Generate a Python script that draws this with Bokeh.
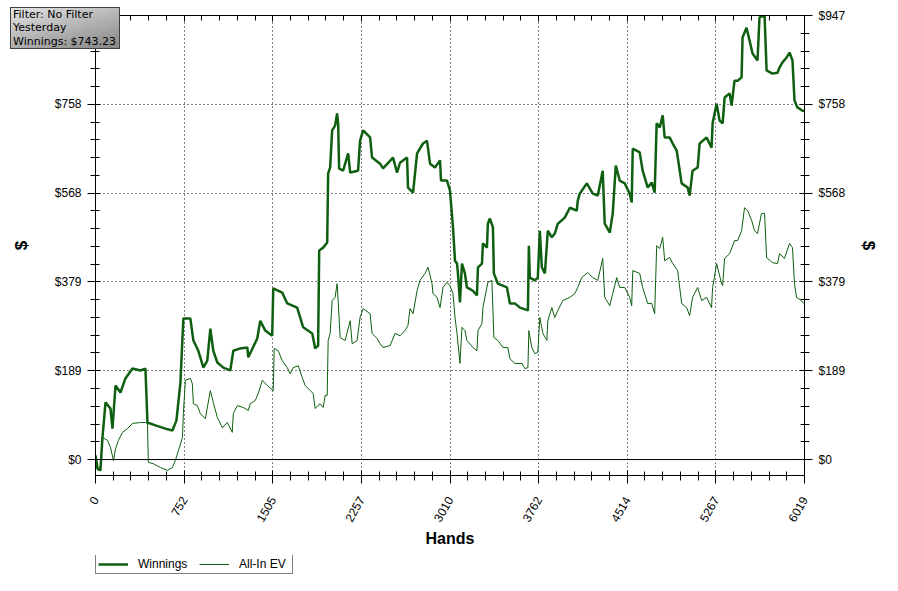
import math
from bokeh.plotting import figure
from bokeh.layouts import column
from bokeh.models import (LinearAxis, FixedTicker, NumeralTickFormatter, Span,
                          Legend, LegendItem, Div, Range1d, CustomJSTickFormatter)
from bokeh.embed import file_html
from bokeh.resources import INLINE

# ---- data (hands, dollars) ----
win_hands = [0, 17, 42, 59, 85, 127, 144, 170, 212, 254, 314, 381, 424, 441, 509, 593, 653, 687, 721, 746,
             805, 831, 873, 916, 949, 975, 1000, 1034, 1085, 1144, 1170, 1229, 1289, 1297, 1373, 1399, 1441, 1500, 1509, 1585,
             1628, 1712, 1763, 1840, 1865, 1890, 1899, 1933, 1967, 1975, 1992, 2009, 2034, 2051, 2060, 2068, 2102, 2145, 2162, 2229,
             2246, 2272, 2331, 2348, 2416, 2441, 2526, 2560, 2585, 2645, 2653, 2696, 2730, 2780, 2814, 2840, 2882, 2925, 2933, 2984,
             3009, 3035, 3052, 3069, 3077, 3094, 3111, 3136, 3153, 3204, 3238, 3247, 3281, 3289, 3323, 3331, 3348, 3374, 3382, 3416,
             3493, 3518, 3560, 3603, 3671, 3679, 3687, 3730, 3755, 3772, 3789, 3815, 3840, 3874, 3899, 3925, 3984, 4027, 4086, 4094,
             4111, 4171, 4222, 4264, 4306, 4323, 4366, 4391, 4417, 4450, 4493, 4535, 4552, 4561, 4620, 4645, 4688, 4722, 4747, 4764,
             4790, 4815, 4832, 4874, 4900, 4934, 4976, 5027, 5044, 5069, 5112, 5129, 5188, 5230, 5239, 5273, 5298, 5324, 5341, 5383,
             5400, 5425, 5451, 5485, 5493, 5527, 5552, 5578, 5620, 5637, 5680, 5697, 5747, 5790, 5807, 5832, 5866, 5892, 5917, 5934,
             5959, 6002, 6019]
win_values = [9, -19, -23, 47, 122, 109, 66, 158, 143, 173, 194, 190, 194, 79, 73, 66, 62, 83, 164, 301,
              301, 254, 232, 196, 211, 279, 232, 207, 196, 190, 232, 237, 239, 218, 258, 296, 275, 264, 365, 356,
              333, 324, 282, 269, 237, 243, 446, 452, 463, 610, 623, 702, 712, 738, 717, 621, 616, 653, 612, 616,
              680, 702, 687, 644, 631, 621, 644, 612, 633, 644, 580, 569, 653, 674, 680, 631, 623, 638, 595, 595,
              574, 495, 424, 418, 397, 335, 418, 397, 367, 360, 350, 410, 418, 461, 452, 503, 514, 495, 397, 375,
              367, 333, 333, 324, 318, 456, 388, 382, 388, 488, 410, 397, 488, 474, 482, 503, 516, 537, 531, 552,
              567, 589, 567, 563, 616, 503, 484, 525, 627, 595, 589, 567, 548, 663, 655, 616, 580, 591, 569, 717,
              708, 734, 687, 687, 674, 659, 589, 580, 563, 616, 623, 674, 687, 665, 717, 759, 723, 717, 772, 781,
              755, 808, 808, 815, 900, 921, 894, 866, 851, 943, 947, 830, 823, 825, 836, 847, 857, 868, 851, 766,
              751, 744, 743]

ev_hands = [0, 17, 42, 59, 102, 127, 153, 170, 195, 229, 271, 314, 381, 424, 441, 449, 492, 551, 610, 653,
            678, 704, 738, 746, 763, 805, 822, 831, 865, 890, 932, 975, 1000, 1034, 1077, 1119, 1161, 1170, 1204, 1255,
            1297, 1314, 1356, 1382, 1416, 1458, 1509, 1517, 1551, 1585, 1628, 1653, 1678, 1721, 1755, 1780, 1823, 1848, 1865, 1907,
            1933, 1950, 1967, 1975, 1992, 2009, 2034, 2051, 2060, 2077, 2119, 2162, 2179, 2221, 2246, 2272, 2331, 2348, 2391, 2416,
            2441, 2501, 2543, 2585, 2628, 2653, 2670, 2696, 2730, 2755, 2797, 2823, 2857, 2865, 2899, 2925, 2950, 2984, 3009, 3035,
            3052, 3069, 3094, 3111, 3136, 3153, 3179, 3204, 3238, 3247, 3281, 3289, 3331, 3365, 3382, 3416, 3459, 3501, 3518, 3560,
            3620, 3645, 3671, 3679, 3704, 3730, 3755, 3772, 3798, 3832, 3840, 3874, 3899, 3925, 3967, 4027, 4069, 4094, 4128, 4179,
            4222, 4264, 4306, 4323, 4366, 4391, 4425, 4450, 4493, 4535, 4552, 4561, 4620, 4645, 4688, 4722, 4747, 4764, 4790, 4815,
            4832, 4874, 4900, 4942, 4976, 5018, 5044, 5069, 5112, 5146, 5188, 5230, 5239, 5273, 5315, 5324, 5341, 5383, 5425, 5451,
            5485, 5510, 5536, 5570, 5595, 5620, 5654, 5680, 5697, 5747, 5790, 5807, 5849, 5892, 5917, 5934, 5951, 5993, 6002, 6019]
ev_values = [9, -23, -13, 47, 41, 26, -2, 23, 41, 58, 66, 77, 79, 79, 77, -6, -9, -17, -23, -17,
             -2, 19, 47, 98, 169, 173, 162, 119, 115, 98, 87, 147, 122, 90, 68, 79, 58, 98, 115, 111,
             105, 119, 126, 141, 169, 158, 147, 237, 232, 211, 196, 183, 196, 200, 175, 158, 147, 141, 109, 119,
             111, 137, 137, 254, 269, 339, 346, 375, 339, 260, 254, 296, 247, 254, 303, 322, 311, 269, 258, 247,
             239, 243, 269, 264, 275, 286, 322, 311, 360, 382, 397, 410, 375, 354, 346, 324, 367, 378, 371, 354,
             303, 269, 205, 282, 275, 254, 247, 239, 232, 275, 290, 324, 378, 382, 260, 254, 239, 239, 215, 205,
             205, 194, 196, 275, 239, 226, 228, 303, 269, 254, 296, 324, 303, 318, 339, 346, 354, 367, 388, 399,
             388, 382, 429, 346, 328, 354, 388, 367, 367, 346, 328, 403, 397, 367, 333, 333, 311, 456, 450, 474,
             424, 431, 418, 403, 333, 324, 307, 346, 367, 339, 346, 324, 367, 418, 375, 371, 429, 439, 467, 467,
             488, 537, 531, 510, 488, 482, 525, 525, 431, 420, 418, 439, 429, 461, 452, 375, 346, 339, 335, 333]

x_ticks = [0, 752.375, 1504.75, 2257.125, 3009.5, 3761.875, 4514.25, 5266.625, 6019]
y_ticks = [0, 189.4, 378.8, 568.2, 757.6, 947]
x_minor = [x_ticks[-1] * k / 40 for k in range(41)]
y_minor = [y_ticks[-1] * k / 25 for k in range(-1, 26)]
info_lines = ["Filter: No Filter", "Yesterday", "Winnings: $743.23"]
series_names = ["Winnings", "All-In EV"]

GREEN = "#0e5f10"
FONT = "Liberation Sans"

p = figure(width=882, height=555, output_backend="svg", toolbar_location=None,
           x_range=Range1d(0, 6019), y_range=Range1d(-34, 947),
           min_border_left=95, min_border_right=78, min_border_top=15, min_border_bottom=80)
p.outline_line_color = None
p.background_fill_color = "white"
p.border_fill_color = "white"

xt = FixedTicker(ticks=x_ticks, minor_ticks=x_minor)
yt = FixedTicker(ticks=y_ticks, minor_ticks=y_minor)

def style_axis(ax):
    ax.axis_line_color = "black"
    ax.major_tick_line_color = "black"
    ax.minor_tick_line_color = "black"
    ax.major_label_text_font = FONT
    ax.major_label_text_font_size = "12px"
    ax.major_label_text_color = "black"
    ax.axis_label_text_font = FONT
    ax.axis_label_text_font_style = "bold"
    ax.axis_label_text_color = "black"
    ax.major_tick_in = 5
    ax.major_tick_out = 8
    ax.minor_tick_in = 4
    ax.minor_tick_out = 5

xb = p.xaxis[0]
style_axis(xb)
xb.ticker = xt
xb.formatter = NumeralTickFormatter(format="0")
xb.major_label_orientation = math.radians(60)
xb.major_label_standoff = 14
xb.axis_label = "Hands"
xb.axis_label_text_font_size = "16px"
xb.axis_label_standoff = 2

yl = p.yaxis[0]
style_axis(yl)
yl.ticker = yt
yl.formatter = NumeralTickFormatter(format="$0")
yl.axis_label = "$"
yl.axis_label_text_font_size = "17px"
yl.axis_label_standoff = 21
yl.major_label_standoff = 6

yr = LinearAxis(ticker=yt, formatter=NumeralTickFormatter(format="$0"), axis_label="$")
style_axis(yr)
yr.axis_label_text_font_size = "17px"
yr.axis_label_standoff = 11
yr.major_label_standoff = 6
p.add_layout(yr, "right")

xtop = LinearAxis(ticker=xt, formatter=CustomJSTickFormatter(code="return ''"))
style_axis(xtop)
xtop.major_label_text_font_size = "8px"
xtop.major_label_standoff = 0
xtop.major_tick_out = 0
xtop.minor_tick_out = 0
xtop.major_tick_in = 6
xtop.minor_tick_in = 5
p.add_layout(xtop, "above")

p.xgrid.ticker = xt
p.ygrid.ticker = yt
for g in (p.xgrid, p.ygrid):
    g.grid_line_color = "black"
    g.grid_line_dash = "1 3"
    g.grid_line_width = 1

p.add_layout(Span(location=0, dimension="width", line_color="black", line_width=1))

p.line(win_hands, win_values, line_color=GREEN, line_width=2.5)
p.line(ev_hands, ev_values, line_color=GREEN, line_width=1)

# legend strip below the chart (its frame lines up with the chart frame)
lg = figure(width=882, height=20, output_backend="svg", toolbar_location=None,
            x_range=Range1d(0, 1), y_range=Range1d(0, 1),
            min_border_left=0, min_border_right=0, min_border_top=0, min_border_bottom=0)
lg.axis.visible = False
lg.grid.visible = False
lg.outline_line_color = None
lg.border_fill_color = "white"
lw = lg.line([0], [float("nan")], line_color=GREEN, line_width=2.5)
le = lg.line([0], [float("nan")], line_color=GREEN, line_width=1)
legend = Legend(items=[LegendItem(label=series_names[0], renderers=[lw]),
                       LegendItem(label=series_names[1], renderers=[le])],
                orientation="horizontal", location=(0, 1),
                border_line_color="black", border_line_width=1, background_fill_color="white",
                label_text_font=FONT, label_text_font_size="12px", label_text_color="black",
                glyph_width=30, glyph_height=12, label_height=12, label_width=51,
                padding=2, spacing=10, margin=0, label_standoff=10)
lg.add_layout(legend, "center")

# filter / winnings info box in the top-left corner
info = Div(text="<br>".join(info_lines), width=110, height=42, disable_math=True,
           styles={"position": "absolute", "left": "5px", "top": "2px", "z-index": "10",
                   "box-sizing": "border-box", "border": "1px solid #404040",
                   "background": "linear-gradient(165deg, #e4e4e4 0%, #b0b0b0 55%, #858585 100%)",
                   "font-family": "DejaVu Sans", "font-size": "11px", "line-height": "13.3px",
                   "color": "black", "padding": "0px 2px", "white-space": "nowrap"})

layout = column(p, lg, info, spacing=0)
open("out.html", "w").write(file_html(layout, INLINE))
